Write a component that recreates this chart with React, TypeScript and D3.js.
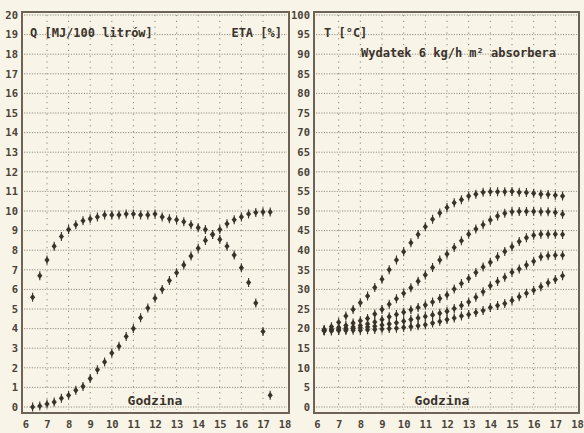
import React, { useEffect, useRef } from 'react';
import { axisBottom, axisLeft, scaleLinear, select } from 'd3';

const W = 584;
const H = 433;

// pomiary co 20 minut
const times = [
  '6:20', '6:40', '7:00', '7:20', '7:40', '8:00', '8:20', '8:40', '9:00', '9:20',
  '9:40', '10:00', '10:20', '10:40', '11:00', '11:20', '11:40', '12:00', '12:20', '12:40',
  '13:00', '13:20', '13:40', '14:00', '14:20', '14:40', '15:00', '15:20', '15:40', '16:00',
  '16:20', '16:40', '17:00', '17:20',
];
const hourTicks = [6, 7, 8, 9, 10, 11, 12, 13, 14, 15, 16, 17, 18];
const qTicks = [0, 1, 2, 3, 4, 5, 6, 7, 8, 9, 10, 11, 12, 13, 14, 15, 16, 17, 18, 19, 20];
const tTicks = [0, 5, 10, 15, 20, 25, 30, 35, 40, 45, 50, 55, 60, 65, 70, 75, 80, 85, 90, 95, 100];

// lewy wykres: Q [MJ/100 l] i sprawnosc (w skali /10)
const qValues = [
  0.0, 0.05, 0.15, 0.25, 0.45, 0.6, 0.85, 1.05, 1.45, 1.9,
  2.3, 2.75, 3.1, 3.6, 4.0, 4.55, 5.05, 5.55, 6.0, 6.45,
  6.85, 7.25, 7.7, 8.1, 8.5, 8.8, 9.05, 9.35, 9.55, 9.7,
  9.85, 9.92, 9.95, 9.95,
];
const etaValues = [
  5.6, 6.7, 7.5, 8.2, 8.7, 9.05, 9.3, 9.5, 9.6, 9.7,
  9.8, 9.8, 9.8, 9.85, 9.85, 9.8, 9.8, 9.85, 9.7, 9.6,
  9.55, 9.45, 9.3, 9.15, 9.05, 8.8, 8.55, 8.2, 7.75, 7.1,
  6.35, 5.3, 3.85, 0.6,
];

// prawy wykres: temperatury T [C]
const t1 = [
  19.8, 20.5, 21.6, 23.2, 24.9, 26.6, 28.3, 30.5, 32.6, 35.0,
  37.5, 39.6, 41.9, 44.0, 46.0, 47.9, 49.5, 50.9, 52.1, 52.9,
  53.8, 54.3, 54.8, 54.9, 54.9, 54.9, 55.0, 54.8, 54.7, 54.5,
  54.3, 54.2, 54.0, 53.8,
];
const t2 = [
  19.6, 19.9, 20.3, 20.8, 21.4, 22.0, 22.6, 23.7, 24.9, 26.2,
  27.6, 29.0, 30.4, 32.1, 33.7, 35.6, 37.5, 39.0, 40.7, 42.4,
  44.1, 45.4, 46.5, 47.7, 48.7, 49.4, 49.8, 49.9, 49.9, 49.9,
  49.8, 49.8, 49.6, 49.2,
];
const t3 = [
  19.5, 19.7, 19.9, 20.1, 20.4, 20.8, 21.2, 21.7, 22.3, 23.0,
  23.6, 24.2, 24.8, 25.4, 26.0, 26.8, 27.7, 28.6, 30.1, 31.5,
  32.8, 34.3, 35.7, 36.9, 38.3, 39.7, 40.9, 42.2, 43.2, 43.8,
  44.1, 44.1, 44.1, 44.0,
];
const t4 = [
  19.5, 19.6, 19.7, 19.8, 20.0, 20.2, 20.4, 20.6, 20.9, 21.2,
  21.5, 21.9, 22.3, 22.7, 23.1, 23.5, 23.9, 24.4, 25.1, 25.9,
  26.8, 28.0, 29.4, 30.9, 32.0, 33.1, 34.4, 35.2, 36.2, 37.2,
  38.3, 38.6, 38.7, 38.7,
];
const t5 = [
  19.4, 19.4, 19.5, 19.5, 19.6, 19.6, 19.7, 19.8, 19.9, 20.0,
  20.1, 20.3, 20.5, 20.7, 21.0, 21.4, 21.8, 22.3, 22.7, 23.2,
  23.6, 24.1, 24.6, 25.4, 25.9, 26.4, 27.2, 28.1, 29.0, 29.8,
  30.7, 31.7, 32.5, 33.5,
];

const toHour = (s) => {
  const [h, m] = s.split(':').map(Number);
  return h + m / 60;
};

const ink = '#3a332c';
const gridInk = '#8a8277';
const mono = '"DejaVu Sans Mono", "Liberation Mono", monospace';

const drawPanel = (svg, opts) => {
  const {
    left, right, top, bottom, frame, yTicks, yMax, series, texts,
  } = opts;

  const x = scaleLinear().domain([6, 18]).range([left, right]);
  const y = scaleLinear().domain([0, yMax]).range([bottom, top]);
  const g = svg.append('g');

  // siatka pozioma
  g.selectAll('line.h')
    .data(yTicks)
    .enter()
    .append('line')
    .attr('x1', frame.x0 + 2)
    .attr('x2', frame.x1 - 2)
    .attr('y1', (d) => y(d))
    .attr('y2', (d) => y(d))
    .attr('stroke', gridInk)
    .attr('stroke-width', 0.9)
    .attr('stroke-dasharray', '1.2,1.4');

  // siatka pionowa
  g.selectAll('line.v')
    .data(hourTicks.slice(1, -1))
    .enter()
    .append('line')
    .attr('x1', (d) => x(d))
    .attr('x2', (d) => x(d))
    .attr('y1', frame.y0 + 3)
    .attr('y2', frame.y1 - 3)
    .attr('stroke', gridInk)
    .attr('stroke-width', 1)
    .attr('stroke-dasharray', '1.2,4.6');

  g.append('rect')
    .attr('x', frame.x0)
    .attr('y', frame.y0)
    .attr('width', frame.x1 - frame.x0)
    .attr('height', frame.y1 - frame.y0)
    .attr('fill', 'none')
    .attr('stroke', '#6e6357')
    .attr('stroke-width', 2);

  const yAxis = g.append('g')
    .attr('transform', `translate(${frame.x0},0)`)
    .call(axisLeft(y).tickValues(yTicks).tickSize(0).tickPadding(4));
  const xAxis = g.append('g')
    .attr('transform', `translate(0,${frame.y1})`)
    .call(axisBottom(x).tickValues(hourTicks).tickSize(0).tickPadding(8));
  [yAxis, xAxis].forEach((a) => {
    a.select('.domain').remove();
    a.selectAll('text')
      .attr('fill', '#4a4239')
      .style('font-family', mono)
      .style('font-size', '10.5px')
      .style('font-weight', 'bold');
  });

  texts.forEach((t) => {
    g.append('text')
      .attr('x', t.x)
      .attr('y', t.y)
      .attr('text-anchor', t.anchor || 'start')
      .attr('fill', ink)
      .style('font-family', mono)
      .style('font-size', `${t.size || 12}px`)
      .style('font-weight', t.bold ? 'bold' : 'normal')
      .text(t.text);
  });

  series.forEach((values) => {
    const pts = g.append('g')
      .selectAll('g')
      .data(values.map((v, i) => [toHour(times[i]), v]))
      .enter()
      .append('g')
      .attr('transform', (d) => `translate(${x(d[0])},${y(d[1])})`);
    pts.append('path')
      .attr('d', 'M0,-3.3L2.6,0L0,3.3L-2.6,0Z')
      .attr('fill', ink);
    pts.append('line')
      .attr('y1', -4.5)
      .attr('y2', 4.5)
      .attr('stroke', ink)
      .attr('stroke-width', 1.1);
  });
};

const App = () => {
  const ref = useRef(null);

  useEffect(() => {
    const svg = select(ref.current);
    svg.selectAll('*').remove();
    svg.append('rect').attr('width', W).attr('height', H).attr('fill', '#f8f5e8');

    drawPanel(svg, {
      left: 25.4,
      right: 284.6,
      top: 15,
      bottom: 407,
      frame: { x0: 22, x1: 289, y0: 12, y1: 413 },
      yTicks: qTicks,
      yMax: 20,
      series: [etaValues, qValues],
      texts: [
        { text: 'Q [MJ/100 litrów]', x: 30, y: 37, bold: true },
        { text: 'ETA [%]', x: 282, y: 37, anchor: 'end', bold: true },
        { text: 'Godzina', x: 155, y: 405, bold: true, anchor: 'middle', size: 13 },
      ],
    });

    drawPanel(svg, {
      left: 317,
      right: 577,
      top: 15,
      bottom: 407,
      frame: { x0: 314, x1: 579, y0: 12, y1: 413 },
      yTicks: tTicks,
      yMax: 100,
      series: [t1, t2, t3, t4, t5],
      texts: [
        { text: 'T [°C]', x: 324, y: 37, bold: true },
        { text: 'Wydatek 6 kg/h m² absorbera', x: 361, y: 57, bold: true },
        { text: 'Godzina', x: 442, y: 405, bold: true, anchor: 'middle', size: 13 },
      ],
    });

    return () => { svg.selectAll('*').remove(); };
  }, []);

  return (
    <svg
      ref={ref}
      width={W}
      height={H}
      style={{ position: 'absolute', left: 0, top: 0 }}
    />
  );
};

export default App;
